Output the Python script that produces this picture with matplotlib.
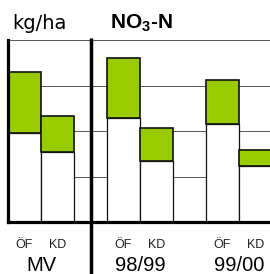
import matplotlib
matplotlib.use("Agg")
import matplotlib.pyplot as plt
import matplotlib.transforms as mtransforms

# Data
groups = ["MV", "98/99", "99/00"]
sub_labels = ["ÖF", "KD", "ÖF", "KD", "ÖF", "KD"]
white_vals = [48.7, 38.3, 57.3, 33.7, 53.8, 30.9]
green_vals = [33.9, 20.1, 32.8, 17.8, 24.2, 8.7]
grid_vals = [25, 50, 75, 100]

positions = [0, 1, 3, 4, 6, 7]
group_centers = [0.5, 3.5, 6.5]
separator_x = 2

green = "#99CC00"

plt.rcParams['mathtext.fontset'] = 'custom'
plt.rcParams['mathtext.rm'] = 'Liberation Sans:bold'
plt.rcParams['mathtext.it'] = 'Liberation Sans:bold'
plt.rcParams['mathtext.bf'] = 'Liberation Sans:bold'

fig = plt.figure(figsize=(2.70, 2.74), dpi=100)
ax = fig.add_axes([8/270, 52/274, 264/270, 182/274])
ax.set_xlim(-0.5, 7.5)
ax.set_ylim(0, 100)

for g in grid_vals:
    ax.axhline(g, color="#555555", lw=0.7, zorder=1, clip_on=False)

ax.bar(positions, white_vals, width=1.0, color="white", edgecolor="#111111",
       linewidth=0.9, zorder=2)
ax.bar(positions, green_vals, bottom=white_vals, width=1.0, color=green,
       edgecolor="#111111", linewidth=1.2, zorder=2)

for s in ["top", "right"]:
    ax.spines[s].set_visible(False)
ax.spines["left"].set_linewidth(2.3)
ax.spines["bottom"].set_linewidth(2.3)
ax.spines["left"].set_capstyle("projecting")
ax.spines["bottom"].set_capstyle("projecting")
ax.spines["left"].set_zorder(5)
ax.spines["bottom"].set_zorder(5)
ax.set_xticks([])
ax.set_yticks([])

trans = mtransforms.blended_transform_factory(ax.transData, ax.transAxes)
ax.plot([separator_x, separator_x], [1.01, -0.30], transform=trans, color="black",
        lw=2.5, clip_on=False, zorder=6, solid_capstyle="butt")

xfig = mtransforms.blended_transform_factory(ax.transData, fig.transFigure)
for p, lab in zip(positions, sub_labels):
    ax.text(p, (274 - 248) / 274, lab, transform=xfig,
            ha="center", va="baseline", fontsize=9, family="Liberation Sans", color="#222222")

for c, g in zip(group_centers, groups):
    ax.text(c, 0.011, g, transform=xfig,
            ha="center", va="baseline", fontsize=14.5, family="Liberation Sans", color="black")

fig.text(12/270, (274-29)/274, "kg/ha", ha="left", va="baseline", fontsize=14,
         family="DejaVu Sans", color="black")
fig.text(110/270, (274-29)/274, r"NO$_3$-N", ha="left", va="baseline", fontsize=15,
         family="Liberation Sans", fontweight="bold", color="black")

fig.savefig("out.png", dpi=100)
